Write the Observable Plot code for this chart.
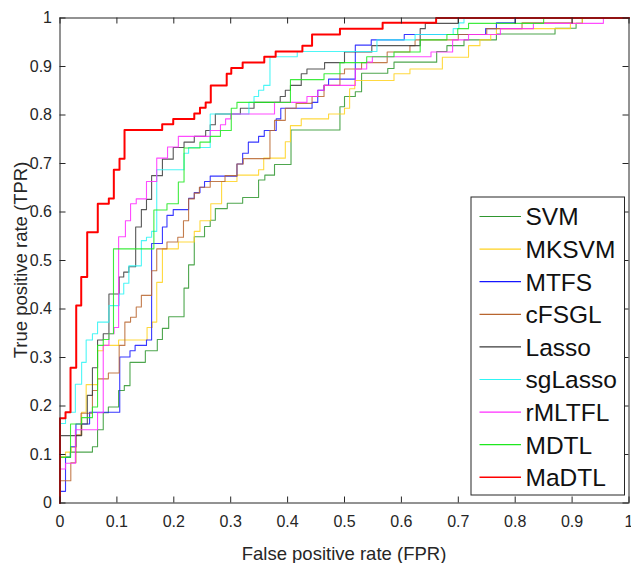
<!DOCTYPE html>
<html>
<head>
<meta charset="utf-8">
<script src="https://cdn.jsdelivr.net/npm/d3@7"></script>
<script src="https://cdn.jsdelivr.net/npm/@observablehq/plot@0.6"></script>
<style>
  html, body { margin: 0; padding: 0; background: #fff; }
  #chart { width: 631px; height: 563px; }
</style>
</head>
<body>
<div id="chart"></div>
<script>
// ---- Data (fpr, tpr) step points ----
const seriesNames = ["SVM", "MKSVM", "MTFS", "cFSGL", "Lasso", "sgLasso", "rMLTFL", "MDTL", "MaDTL"];
const seriesColors = ["#2f962f", "#ffd21f", "#1515ff", "#b8652e", "#3a3a3a", "#2ef5f5", "#ff2cff", "#1ee81e", "#ff0000"];

const SVM = [[0,0.095],[0.018,0.105],[0.057,0.116],[0.066,0.151],[0.076,0.186],[0.085,0.198],[0.103,0.232],[0.113,0.242],[0.123,0.290],[0.150,0.314],[0.171,0.337],[0.180,0.360],[0.191,0.384],[0.218,0.443],[0.226,0.491],[0.236,0.549],[0.254,0.570],[0.264,0.583],[0.273,0.607],[0.294,0.618],[0.321,0.630],[0.349,0.666],[0.360,0.676],[0.377,0.698],[0.406,0.769],[0.492,0.817],[0.500,0.838],[0.519,0.848],[0.530,0.886],[0.576,0.896],[0.587,0.909],[0.662,0.931],[0.680,0.943],[0.710,0.955],[0.767,0.967],[0.870,0.979],[0.907,0.989],[0.918,1.0]];
const MKSVM = [[0,0.095],[0.0097,0.105],[0.0197,0.115],[0.028,0.140],[0.038,0.187],[0.046,0.244],[0.066,0.314],[0.076,0.325],[0.103,0.336],[0.153,0.362],[0.162,0.373],[0.170,0.455],[0.180,0.524],[0.208,0.538],[0.236,0.560],[0.246,0.582],[0.265,0.617],[0.284,0.663],[0.311,0.676],[0.349,0.687],[0.358,0.711],[0.396,0.745],[0.405,0.778],[0.424,0.792],[0.472,0.802],[0.500,0.814],[0.509,0.854],[0.518,0.871],[0.587,0.885],[0.615,0.895],[0.672,0.919],[0.718,0.943],[0.738,0.955],[0.757,0.966],[0.767,0.978],[0.897,0.989],[0.918,1.0]];
const MTFS = [[0,0.024],[0.0097,0.094],[0.0185,0.116],[0.028,0.163],[0.052,0.187],[0.105,0.301],[0.123,0.314],[0.132,0.325],[0.152,0.336],[0.161,0.535],[0.180,0.569],[0.188,0.593],[0.199,0.605],[0.226,0.628],[0.236,0.640],[0.246,0.651],[0.254,0.663],[0.264,0.674],[0.311,0.699],[0.321,0.721],[0.331,0.744],[0.349,0.756],[0.359,0.768],[0.380,0.792],[0.388,0.814],[0.443,0.826],[0.453,0.851],[0.464,0.861],[0.472,0.874],[0.519,0.944],[0.547,0.955],[0.605,0.966],[0.748,0.978],[0.767,0.990],[0.800,1.0]];
const cFSGL = [[0,0.046],[0.019,0.083],[0.028,0.140],[0.037,0.185],[0.057,0.232],[0.066,0.256],[0.085,0.268],[0.104,0.325],[0.114,0.373],[0.124,0.383],[0.134,0.404],[0.143,0.428],[0.161,0.479],[0.170,0.524],[0.188,0.538],[0.207,0.548],[0.217,0.582],[0.226,0.627],[0.236,0.639],[0.245,0.651],[0.264,0.663],[0.290,0.675],[0.311,0.699],[0.322,0.710],[0.369,0.768],[0.377,0.789],[0.396,0.814],[0.415,0.824],[0.443,0.838],[0.464,0.861],[0.492,0.885],[0.500,0.895],[0.530,0.908],[0.575,0.930],[0.615,0.943],[0.624,0.955],[0.700,0.966],[0.750,0.978],[0.812,0.990],[0.900,1.0]];
const Lasso = [[0,0.139],[0.038,0.163],[0.048,0.222],[0.057,0.279],[0.066,0.336],[0.076,0.349],[0.086,0.431],[0.104,0.466],[0.112,0.476],[0.121,0.487],[0.133,0.569],[0.143,0.605],[0.152,0.626],[0.161,0.675],[0.180,0.709],[0.199,0.733],[0.218,0.744],[0.236,0.756],[0.256,0.768],[0.264,0.780],[0.273,0.802],[0.317,0.814],[0.341,0.826],[0.387,0.838],[0.396,0.851],[0.405,0.861],[0.424,0.885],[0.434,0.895],[0.465,0.908],[0.500,0.930],[0.548,0.943],[0.633,0.978],[0.642,0.989],[0.700,1.0]];
const sgLasso = [[0,0.164],[0.0097,0.187],[0.027,0.245],[0.038,0.290],[0.046,0.336],[0.057,0.349],[0.066,0.373],[0.086,0.407],[0.104,0.431],[0.112,0.453],[0.121,0.489],[0.143,0.541],[0.152,0.548],[0.161,0.560],[0.170,0.687],[0.218,0.721],[0.226,0.733],[0.264,0.802],[0.332,0.826],[0.341,0.838],[0.349,0.851],[0.358,0.861],[0.369,0.920],[0.417,0.931],[0.557,0.955],[0.624,0.966],[0.691,0.978],[0.701,0.990],[0.710,1.0]];
const rMLTFL = [[0,0.070],[0.0097,0.082],[0.027,0.151],[0.066,0.186],[0.076,0.325],[0.086,0.349],[0.095,0.362],[0.103,0.549],[0.115,0.582],[0.124,0.617],[0.134,0.627],[0.152,0.663],[0.170,0.711],[0.189,0.734],[0.208,0.756],[0.264,0.768],[0.282,0.780],[0.291,0.792],[0.300,0.802],[0.377,0.826],[0.434,0.838],[0.453,0.851],[0.464,0.861],[0.519,0.895],[0.539,0.909],[0.549,0.920],[0.652,0.930],[0.690,0.955],[0.718,0.966],[0.774,0.978],[0.832,0.989],[0.955,1.0]];
const MDTL = [[0,0.094],[0.0185,0.163],[0.038,0.176],[0.057,0.198],[0.066,0.325],[0.076,0.337],[0.086,0.349],[0.094,0.524],[0.165,0.604],[0.188,0.617],[0.208,0.662],[0.218,0.732],[0.246,0.744],[0.264,0.756],[0.282,0.768],[0.301,0.814],[0.311,0.826],[0.405,0.873],[0.464,0.885],[0.492,0.908],[0.539,0.920],[0.587,0.930],[0.633,0.955],[0.680,0.966],[0.699,0.978],[0.718,0.989],[0.850,1.0]];
const MaDTL = [[0,0.175],[0.0097,0.187],[0.0185,0.279],[0.0285,0.407],[0.0373,0.466],[0.0478,0.558],[0.0664,0.617],[0.0858,0.628],[0.0946,0.687],[0.1046,0.710],[0.1134,0.769],[0.1796,0.781],[0.199,0.792],[0.236,0.803],[0.246,0.815],[0.256,0.826],[0.265,0.861],[0.293,0.885],[0.301,0.897],[0.321,0.908],[0.359,0.920],[0.379,0.931],[0.426,0.943],[0.443,0.966],[0.492,0.978],[0.567,0.990],[0.661,1.0]];

const seriesData = [SVM, MKSVM, MTFS, cFSGL, Lasso, sgLasso, rMLTFL, MDTL, MaDTL];

const tickValues = [0, 0.1, 0.2, 0.3, 0.4, 0.5, 0.6, 0.7, 0.8, 0.9, 1];
const tickLabels = ["0", "0.1", "0.2", "0.3", "0.4", "0.5", "0.6", "0.7", "0.8", "0.9", "1"];
const xTitle = "False positive rate (FPR)";
const yTitle = "True positive rate (TPR)";

// ---- Layout ----
const W = 631, H = 563;
const mL = 59.5, mR = 2.5, mT = 17.5, mB = 60.5;
const innerW = W - mL - mR, innerH = H - mT - mB;
const font = "'Liberation Sans', Arial, Helvetica, sans-serif";
const axisColor = "#262626";
const tickLen = 6;
const labelOf = new Map(tickValues.map((v, i) => [v, tickLabels[i]]));

const lineMarks = seriesData.map((pts, i) => {
  const data = [[0, 0], ...pts, [1, 1]];
  return Plot.line(data, {
    x: d => d[0], y: d => d[1], curve: "step-after",
    stroke: seriesColors[i],
    strokeWidth: seriesNames[i] === "MaDTL" ? 2 : 1.1,
    strokeOpacity: seriesNames[i] === "MaDTL" ? 1 : 0.85
  });
});

const chart = Plot.plot({
  width: W, height: H,
  marginLeft: mL, marginRight: mR, marginTop: mT, marginBottom: mB,
  style: { fontFamily: font, fontSize: "16px", color: axisColor, background: "#fff", overflow: "visible" },
  x: { domain: [0, 1] },
  y: { domain: [0, 1] },
  marks: [
    Plot.axisX({ ticks: tickValues, tickFormat: d => labelOf.get(d), tickSize: 0, tickPadding: 12.5, fontSize: 16, label: null }),
    Plot.axisY({ ticks: tickValues, tickFormat: d => labelOf.get(d), tickSize: 0, tickPadding: 8, fontSize: 16, label: null }),
    ...lineMarks,
    Plot.frame({ stroke: axisColor, strokeWidth: 1 }),
    Plot.tickX(tickValues, { x: d => d, insetTop: innerH - tickLen, stroke: axisColor }),
    Plot.tickX(tickValues, { x: d => d, insetBottom: innerH - tickLen, stroke: axisColor }),
    Plot.tickY(tickValues, { y: d => d, insetRight: innerW - tickLen, stroke: axisColor }),
    Plot.tickY(tickValues, { y: d => d, insetLeft: innerW - tickLen, stroke: axisColor })
  ]
});

document.getElementById("chart").appendChild(chart);

// ---- Axis titles and legend ----
const svg = d3.select(chart);
svg.append("text")
  .attr("x", mL + innerW / 2).attr("y", 559.5)
  .attr("text-anchor", "middle")
  .style("font-family", font).style("font-size", "18.5px").attr("fill", axisColor)
  .text(xTitle);
svg.append("text")
  .attr("transform", `translate(26.5, ${mT + innerH / 2}) rotate(-90)`)
  .attr("text-anchor", "middle")
  .style("font-family", font).style("font-size", "18.5px").attr("fill", axisColor)
  .text(yTitle);

const lg = svg.append("g");
const lgX = 471, lgY = 197, lgW = 153.5, lgH = 298;
lg.append("rect").attr("x", lgX).attr("y", lgY).attr("width", lgW).attr("height", lgH)
  .attr("fill", "#fff").attr("stroke", axisColor).attr("stroke-width", 1);
const rowStep = 32.6, row0 = 216.5;
seriesNames.forEach((name, i) => {
  const cy = row0 + i * rowStep;
  lg.append("line").attr("x1", 479.5).attr("x2", 521).attr("y1", cy).attr("y2", cy)
    .attr("stroke", seriesColors[i]).attr("stroke-width", name === "MaDTL" ? 1.5 : 1.2);
  lg.append("text").attr("x", 525.5).attr("y", cy).attr("dy", "0.36em")
    .attr("text-anchor", "start")
    .style("text-anchor", "start")
    .style("font-family", font).style("font-size", "24.5px").attr("fill", "#111")
    .text(name);
});
</script>
</body>
</html>
